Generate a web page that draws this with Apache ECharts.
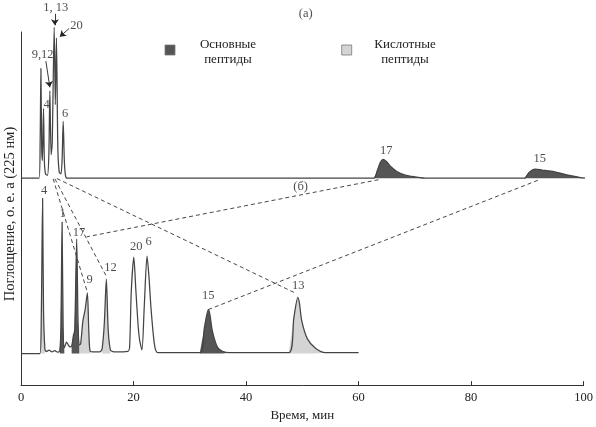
<!DOCTYPE html>
<html><head><meta charset="utf-8">
<script src="https://cdn.jsdelivr.net/npm/echarts@6/dist/echarts.min.js"></script>
<style>html,body{margin:0;padding:0;background:#fff}#c{width:596px;height:427px}</style>
</head><body><div id="c"></div>
<script>
// ---- data (time, min ; absorbance, arbitrary units above each trace's baseline) ----
const xTicks = [0, 20, 40, 60, 80, 100];
const BASE_A = 70.3;   // baseline level of chromatogram (а)
const BASE_B = 10.7;   // baseline level of chromatogram (б)

const traceA = [
  [0,0],[3.2,0],[3.4,12],[3.54,37.3],[3.68,10],[3.8,6],[4.0,23.7],[4.15,6],[4.35,1.5],[4.7,1],
  [4.95,8],[5.13,29.7],[5.35,8],[5.55,12],[5.9,51.3],[6.1,25],[6.3,47.7],[6.55,10],[6.8,2],
  [7.1,1.5],[7.3,6],[7.5,19.3],[7.7,6],[7.9,1],[8.2,0],
  [62.7,0],[63.3,2.5],[63.9,5.5],[64.4,6.4],[65.0,5.6],[65.8,3.8],[66.8,2.3],[68.3,1.1],[70,0.5],[72,0],
  [89.5,0],[90.3,2],[91.4,3.1],[92.6,2.8],[94.8,2.2],[97.7,0.9],[100.4,0],[101.2,0]
];
const traceB = [
  [0,0],[3.35,0],[3.6,12],[3.84,52.8],[4.0,15],[4.25,1.5],[4.5,0.7],[5.0,1.2],[5.5,0.6],[6.0,1.0],
  [6.5,0.5],[6.9,1],[7.1,10],[7.3,44.7],[7.5,8],[7.7,2],[8.1,3.9],[8.4,3.0],[8.7,2.3],[9.0,2.5],
  [9.3,6],[9.55,8],[9.9,38.9],[10.15,10],[10.4,3],[10.6,3.3],[11.0,11.1],[11.4,15],[11.8,20.6],
  [12.05,7.8],[12.3,0.8],[13,0.6],[14.0,0.6],[14.4,1.5],[14.8,10],[15.17,25.3],[15.5,8],[15.9,1.2],
  [16.5,0.6],[19.0,0.8],[19.3,2],[19.6,21.1],[20.05,32.8],[20.4,22],[20.8,10],[21.1,4.4],[21.5,1.3],
  [21.9,15.7],[22.4,33.1],[22.75,26],[23.1,15.6],[23.7,3.3],[24.2,0.4],[25,0.3],
  [31.8,0.3],[32.6,8.9],[33.3,15],[33.6,13],[34.0,7.8],[34.9,2.2],[35.8,0.8],[37,0.3],
  [47.6,0.3],[48.5,12.2],[49.2,19.1],[49.5,17],[49.9,11.1],[50.9,5],[52.4,1.7],[54.1,0.3],[60,0.3]
];
// filled peaks: [from, to, kind]  kind: 'basic' (dark) / 'acidic' (light)
const fillsA = [[62.7,72,'basic'],[89.5,101.2,'basic']];
const fillsB = [[3.35,4.25,'acidic'],[6.9,7.7,'basic'],[9.0,10.45,'basic'],[10.4,12.3,'acidic'],
                [14.4,15.9,'acidic'],[31.8,37,'basic'],[47.6,54.1,'acidic']];
// dashed connectors between the same peptide in (а) and (б): [[t1,v1],[t2,v2]]
const connectors = [
  [[5.72,70.1],[11.77,31.7]],
  [[6.02,70.1],[15.17,37.0]],
  [[6.37,70.2],[48.85,31.2]],
  [[63.54,69.8],[11.68,50.4]],
  [[91.86,69.6],[33.33,25.7]]
];
// arrows for crowded labels
const arrows = [
  [[6.02,126.2],[6.02,122.3]],
  [[8.55,121.2],[6.9,118.4]],
  [[4.42,110.1],[5.13,101.2]]
];
// peak labels: [t, v, text]
const peakLabels = [
  [6.19,128.3,'1, 13'],[9.86,122.3,'20'],[3.84,112.3,'9,12'],[4.55,95.3,'4'],[7.84,92.3,'6'],
  [64.9,79.8,'17'],[92.2,77.1,'15'],[50.6,126.2,'(а)'],
  [4.12,66.0,'4'],[7.38,58.4,'1'],[10.3,51.8,'17'],[12.2,35.7,'9'],[15.9,39.8,'12'],
  [20.5,47.1,'20'],[22.7,48.8,'6'],[33.3,30.4,'15'],[49.3,33.8,'13'],[49.7,67.3,'(б)']
];
const legendItems = [['Основные\nпептиды','basic'],['Кислотные\nпептиды','acidic']];

// ---- styles ----
const FONT = '"Liberation Serif","DejaVu Serif",serif';
const LINE = '#444';
const FILL = {basic:'#555555', acidic:'#d4d4d4'};
const SMOOTH = 0.25;

const shift = (tr, b) => tr.map(p => [p[0], p[1] + b]);
const series = [];
function addFills(tr, fills, base){
  fills.forEach(f => {
    series.push({
      type:'line', smooth:SMOOTH, showSymbol:false, silent:true, z:1, clip:false,
      data: shift(tr.filter(p => p[0] >= f[0] && p[0] <= f[1]), base),
      lineStyle:{width:0}, areaStyle:{color:FILL[f[2]], opacity:1, origin:base}
    });
  });
}
addFills(traceA, fillsA, BASE_A);
addFills(traceB, fillsB, BASE_B);
series.push({type:'line', smooth:SMOOTH, showSymbol:false, silent:true, z:3, clip:false,
  data: shift(traceA, BASE_A), lineStyle:{color:LINE, width:1.25}});
series.push({type:'line', smooth:SMOOTH, showSymbol:false, silent:true, z:3, clip:false,
  data: shift(traceB, BASE_B), lineStyle:{color:LINE, width:1.25}});
connectors.forEach(c => series.push({type:'line', showSymbol:false, silent:true, z:4, clip:false,
  data:c, lineStyle:{color:'#333', width:0.9, type:[4,3]}}));
series.push({type:'lines', coordinateSystem:'cartesian2d', silent:true, z:5, clip:false,
  symbol:['none','arrow'], symbolSize:[0,6],
  lineStyle:{color:'#222', width:0.9, opacity:1},
  data: arrows.map(a => ({coords:a}))});
series.push({type:'scatter', silent:true, z:6, clip:false, symbolSize:0.1,
  itemStyle:{color:'rgba(0,0,0,0)'},
  label:{show:true, position:'inside', formatter:'{b}', color:'#222', fontFamily:FONT, fontSize:12.5},
  data: peakLabels.map(l => ({name:l[2], value:[l[0], l[1]]}))});

const chart = echarts.init(document.getElementById('c'), null, {renderer:'canvas'});
const graphics = [];
const legendPos = [[170,50,228],[346.7,50,405]];
legendItems.forEach((it, i) => {
  const p = legendPos[i];
  graphics.push({type:'rect', shape:{x:p[0]-5, y:p[1]-5, width:10, height:10},
    style:{fill:FILL[it[1]], stroke:'#777', lineWidth:0.8}});
  graphics.push({type:'text', x:p[2], y:52, style:{text:it[0], font:'13px '+FONT, fill:'#222',
    textAlign:'center', textVerticalAlign:'middle', lineHeight:15}});
});
graphics.push({type:'text', x:10, y:214, rotation:Math.PI/2,
  style:{text:'Поглощение, о. е. а (225 нм)', font:'14.5px '+FONT, fill:'#222',
  textAlign:'center', textVerticalAlign:'middle'}});

chart.setOption({
  animation:false,
  backgroundColor:'#fff',
  grid:{left:21, right:10, top:32, bottom:35, containLabel:false},
  xAxis:{type:'value', min:xTicks[0], max:xTicks[xTicks.length-1], interval:xTicks[1]-xTicks[0],
    name:'Время, мин', nameLocation:'middle', nameGap:21,
    nameTextStyle:{fontFamily:FONT, fontSize:13, color:'#222'},
    axisLine:{show:true, lineStyle:{color:'#333', width:1}},
    axisTick:{show:true, inside:true, length:4, lineStyle:{color:'#333'}},
    axisLabel:{fontFamily:FONT, fontSize:12.5, color:'#222', margin:6},
    splitLine:{show:false}},
  yAxis:{type:'value', min:0, max:120,
    axisLine:{show:true, onZero:false, lineStyle:{color:'#333', width:1}},
    axisTick:{show:false}, axisLabel:{show:false}, splitLine:{show:false}},
  graphic: graphics,
  series: series
});
</script></body></html>
